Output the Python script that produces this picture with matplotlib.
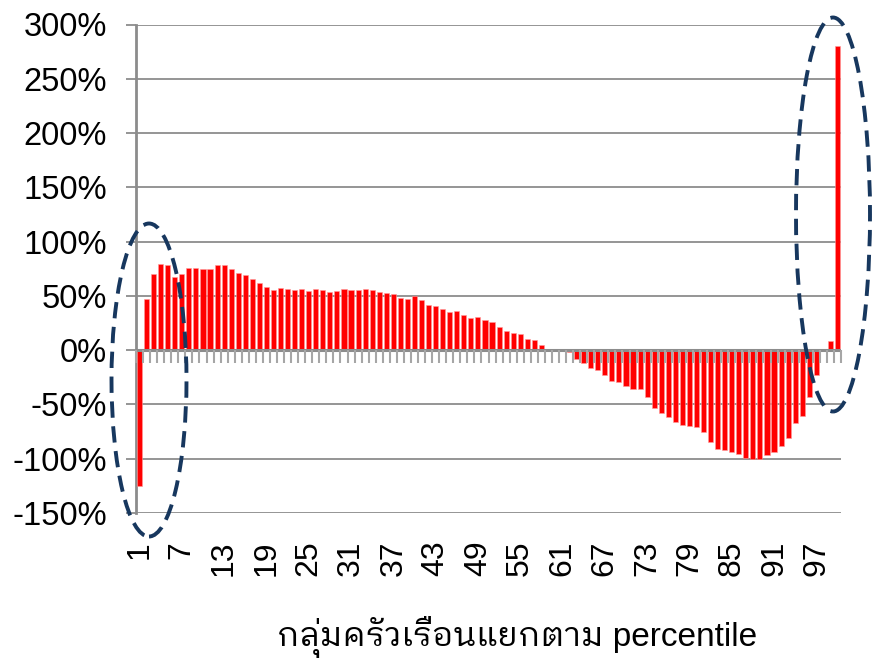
import matplotlib
matplotlib.use("Agg")
import matplotlib.pyplot as plt
import matplotlib.markers as mmarkers
from matplotlib.patches import Ellipse
from matplotlib import font_manager
from matplotlib.ft2font import FT2Font
from matplotlib.ticker import FuncFormatter

# ---------------- data ----------------
percentiles = list(range(1, 101))
change_pct = [
    -125, 47, 70, 79, 78, 67, 70, 76, 75.5, 74.5,
    74.5, 78, 78.5, 75, 71, 69.5, 65.5, 61.5, 58, 55,
    57.5, 56.5, 55.5, 56.5, 54.5, 56, 55, 53.5, 54.5, 56,
    55.5, 55.5, 56, 55, 54, 52.5, 51.5, 48.5, 47, 50,
    46, 41.5, 40.5, 37.5, 35, 36.5, 32, 29.5, 31, 28,
    25.5, 21.5, 18, 16, 14.5, 10, 9, 4.5, 0, 0,
    1, -1.5, -8, -12, -16, -18, -22.5, -28, -29.5, -33,
    -36, -36, -43.5, -53.5, -58, -62, -66, -69, -69.5, -71,
    -75, -84.5, -91, -92, -93.5, -96, -99, -100, -100, -96.5,
    -93.5, -88.5, -80.5, -67.5, -60.5, -43, -23, 0, 8, 280,
]
x_tick_values = list(range(1, 101, 6))
x_tick_labels = [str(v) for v in x_tick_values]
y_tick_values = [-150, -100, -50, 0, 50, 100, 150, 200, 250, 300]
x_label = "กลุ่มครัวเรือนแยกตาม percentile"

# ---------------- fonts ----------------
thai_fonts = set()
for f in font_manager.fontManager.ttflist:
    try:
        ft = FT2Font(f.fname)
        if 0x0E01 in ft.get_charmap():
            thai_fonts.add(f.name)
    except Exception:
        pass
preferred = ["IBM Plex Sans Thai Looped", "Noto Sans Thai Looped",
             "Noto Sans Thai", "IBM Plex Sans Thai", "Sarabun"]
thai_choice = [n for n in preferred if n in thai_fonts] + sorted(thai_fonts)
label_family = ["Liberation Sans"] + thai_choice[:1] + ["DejaVu Sans"]
plt.rcParams["font.family"] = ["Liberation Sans", "DejaVu Sans"]

# ---------------- figure ----------------
fig = plt.figure(figsize=(8.74, 6.61), dpi=100)
ax = fig.add_axes([136 / 874, 1 - 513 / 661, 705 / 874, (513 - 24.5) / 661])

grid_c = "#8C8C8C"
ax.bar(percentiles, change_pct, width=0.72, color="#FF0000",
       edgecolor="#FF9A9A", linewidth=0.4, zorder=3)

ax.set_xlim(0.5, 100.5)
ax.set_ylim(-150, 300)
ax.set_yticks(y_tick_values)
ax.yaxis.set_major_formatter(FuncFormatter(lambda v, p: f"{v:.0f}%"))
ax.yaxis.grid(True, color=grid_c, linewidth=1.3, zorder=0)
ax.set_axisbelow(True)

for s in ["top", "right", "bottom"]:
    ax.spines[s].set_visible(False)
ax.spines["left"].set_color(grid_c)
ax.spines["left"].set_linewidth(2)

ax.tick_params(axis="y", length=7, width=1.3, color=grid_c, pad=14,
               labelsize=23.5, labelcolor="black")
ax.set_xticks(x_tick_values)
ax.set_xticklabels(x_tick_labels, rotation=90)
ax.tick_params(axis="x", length=0, pad=20, labelsize=23, labelcolor="black")

# zero line with category boundary ticks
ax.axhline(0, color=grid_c, linewidth=2.2, zorder=4)
bounds = [p - 0.5 for p in percentiles] + [percentiles[-1] + 0.5]
ax.plot(bounds, [0] * len(bounds), linestyle="none",
        marker=mmarkers.TICKDOWN, markersize=9, markeredgewidth=1.5,
        color="#A6A6A6", zorder=4, clip_on=False)

# dashed ellipses (annotation)
def px_to_data(px, py):
    return ax.transData.inverted().transform(
        fig.transFigure.transform((px / 874, 1 - py / 661)))

for (cx, cy, w, h) in [(149, 380, 75, 313), (833, 214.5, 74, 394)]:
    c = px_to_data(cx, cy)
    p1 = px_to_data(cx - w / 2, cy + h / 2)
    p2 = px_to_data(cx + w / 2, cy - h / 2)
    e = Ellipse(c, p2[0] - p1[0], p2[1] - p1[1], fill=False,
                edgecolor="#17375E", linewidth=2.8, linestyle=(0, (4.2, 2.2)),
                clip_on=False, zorder=6)
    ax.add_patch(e)

fig.text(517 / 874, 1 - 637 / 661, x_label, ha="center", va="center",
         fontsize=24, family=label_family)

fig.savefig("out.png", dpi=100)
